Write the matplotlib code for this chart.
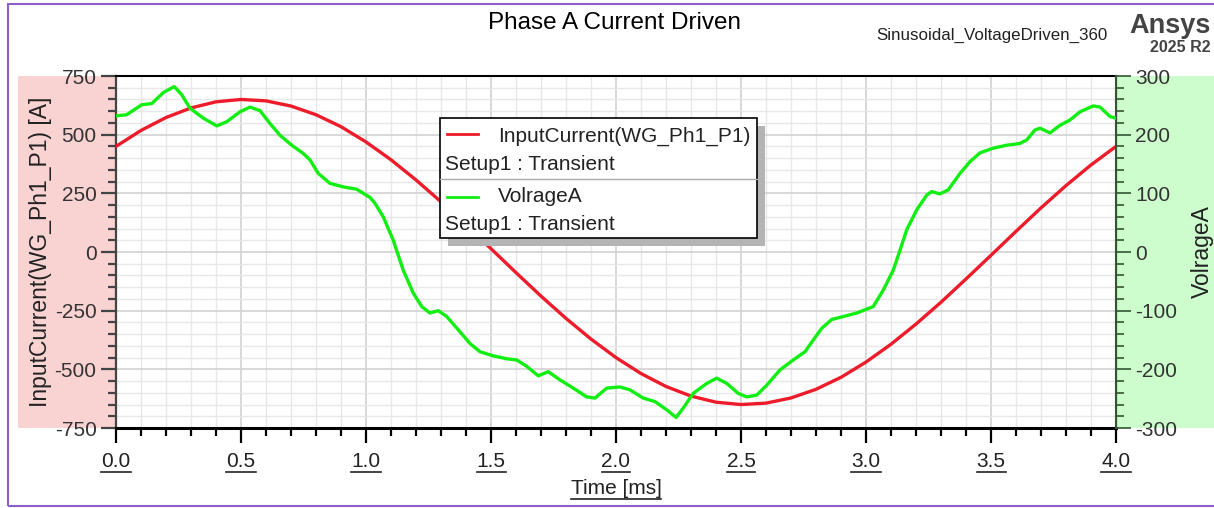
import numpy as np
import matplotlib
matplotlib.use("Agg")
import matplotlib.pyplot as plt
from matplotlib.patches import Rectangle
from matplotlib.lines import Line2D
from matplotlib.ticker import MultipleLocator

plt.rcParams['font.family'] = ['Liberation Sans', 'DejaVu Sans']
plt.rcParams['axes.unicode_minus'] = False

# -----------------------------
# data
# -----------------------------
t_current = [0.0, 0.1, 0.2, 0.3, 0.4, 0.5, 0.6, 0.7, 0.8, 0.9,
             1.0, 1.1, 1.2, 1.3, 1.4, 1.5, 1.6, 1.7, 1.8, 1.9,
             2.0, 2.1, 2.2, 2.3, 2.4, 2.5, 2.6, 2.7, 2.8, 2.9,
             3.0, 3.1, 3.2, 3.3, 3.4, 3.5, 3.6, 3.7, 3.8, 3.9, 4.0]
current = [450, 518, 573, 614, 640, 650, 644, 622, 585, 534,
           469, 393, 307, 214, 115, 14, -88, -188, -283, -371,
           -450, -518, -573, -614, -640, -650, -644, -622, -585, -534,
           -469, -393, -307, -214, -115, -14, 88, 188, 283, 371, 450]

t_voltage = [0.0, 0.043, 0.103, 0.143, 0.19, 0.233, 0.263, 0.296, 0.35, 0.403,
             0.443, 0.496, 0.536, 0.576, 0.616, 0.656, 0.703, 0.749, 0.776, 0.809,
             0.856, 0.909, 0.963, 1.016, 1.036, 1.069, 1.109, 1.149, 1.189, 1.223,
             1.256, 1.289, 1.323, 1.376, 1.416, 1.456, 1.509, 1.563, 1.603, 1.643,
             1.689, 1.729, 1.776, 1.829, 1.883, 1.916, 1.963, 2.016, 2.056, 2.109,
             2.156, 2.203, 2.24, 2.269, 2.309, 2.363, 2.403, 2.443, 2.489, 2.523,
             2.563, 2.603, 2.656, 2.709, 2.756, 2.789, 2.823, 2.863, 2.909, 2.963,
             3.029, 3.069, 3.109, 3.136, 3.163, 3.203, 3.243, 3.263, 3.296, 3.329,
             3.376, 3.416, 3.456, 3.509, 3.563, 3.616, 3.643, 3.676, 3.696, 3.736,
             3.776, 3.816, 3.856, 3.909, 3.936, 3.976, 4.0]
voltage = [232, 234, 251, 253, 272, 282, 268, 245, 228, 215,
           222, 239, 247, 241, 219, 199, 182, 168, 157, 134,
           117, 111, 107, 93, 83, 60, 20, -31, -70, -93,
           -104, -100, -110, -136, -156, -170, -177, -182, -184, -195,
           -211, -204, -218, -232, -247, -249, -232, -230, -235, -249,
           -255, -269, -282, -266, -241, -224, -215, -224, -241, -247,
           -244, -227, -201, -184, -170, -150, -130, -115, -110, -104,
           -93, -65, -31, 3, 38, 72, 97, 103, 99, 106,
           134, 154, 169, 177, 182, 185, 191, 208, 211, 203,
           216, 225, 239, 249, 247, 231, 228]

x_ticks = [0.0, 0.5, 1.0, 1.5, 2.0, 2.5, 3.0, 3.5, 4.0]

W, H = 1214, 508
FS = 15


def fx(px):
    return px / W


def fy(py):
    return 1 - py / H


fig = plt.figure(figsize=(W / 100, H / 100), dpi=100)

# side bands and frame
fig.add_artist(Rectangle((fx(18), fy(428)), fx(98), 352 / H, transform=fig.transFigure,
                         facecolor='#f9d2d2', edgecolor='none', zorder=-1))
fig.add_artist(Rectangle((fx(1116), fy(428)), fx(98), 352 / H, transform=fig.transFigure,
                         facecolor='#cdfccd', edgecolor='none', zorder=-1))
fig.add_artist(Rectangle((fx(8), fy(506)), fx(1220), 502 / H, transform=fig.transFigure,
                         facecolor='none', edgecolor='#8c5fc9', linewidth=1.5, zorder=-1))

ax = fig.add_axes([fx(116), fy(428), fx(1000), 352 / H])
ax2 = ax.twinx()

# -----------------------------
# curves
# -----------------------------
ax.plot(t_current, current, color='#ee1c2a', linewidth=2.4, zorder=3)
ax2.plot(t_voltage, voltage, color='#11ee11', linewidth=2.4, zorder=3)

ax.set_xlim(0, 4)
ax.set_ylim(-750, 750)
ax2.set_ylim(-300, 300)

ax.xaxis.set_major_locator(MultipleLocator(0.5))
ax.xaxis.set_minor_locator(MultipleLocator(0.1))
ax.yaxis.set_major_locator(MultipleLocator(250))
ax.yaxis.set_minor_locator(MultipleLocator(50))
ax2.yaxis.set_major_locator(MultipleLocator(100))
ax2.yaxis.set_minor_locator(MultipleLocator(20))

ax.grid(which='major', color='#d2d2d2', linewidth=1.2)
ax.grid(which='minor', color='#e8e8e8', linewidth=1.0)
ax.set_axisbelow(True)

ax.set_xticks(x_ticks)
ax.set_xticklabels(['%.1f' % v for v in x_ticks])

ax.tick_params(which='major', direction='out', length=11, width=1.6, labelsize=FS, colors='black')
ax.tick_params(which='minor', direction='out', length=6, width=1.6)
ax.tick_params(axis='y', which='both', color='#444444', labelcolor='#333333', pad=3)
ax.tick_params(axis='x', pad=6, labelcolor='#222222')
ax2.tick_params(which='major', direction='out', length=11, width=1.2, labelsize=FS,
                color='#335533', labelcolor='#333333', pad=3)
ax2.tick_params(which='minor', direction='out', length=6, width=1.2, color='#335533')

for side in ['top', 'bottom']:
    ax2.spines[side].set_visible(False)
ax.spines['bottom'].set_linewidth(2.2)
ax.spines['top'].set_linewidth(1.5)
ax.spines['left'].set_color('#444444')
ax.spines['left'].set_linewidth(1.6)
ax2.spines['left'].set_visible(False)
ax2.spines['right'].set_color('#335533')
ax2.spines['right'].set_linewidth(1.5)

ax.set_xlabel('Time [ms]', fontsize=FS, labelpad=6, color='#222222')
ax.set_ylabel('InputCurrent(WG_Ph1_P1) [A]', fontsize=16.5, color='#222222', labelpad=2)
ax2.set_ylabel('VolrageA', fontsize=16.5, color='#222222', rotation=90, labelpad=10)

# -----------------------------
# titles
# -----------------------------
fig.text(fx(614), fy(23), 'Phase A Current Driven', fontsize=17.5, ha='center', va='center')
fig.text(fx(1108), fy(35), 'Sinusoidal_VoltageDriven_360', fontsize=12.2, ha='right', va='center',
         color='#222222')
fig.text(fx(1211), fy(26), 'Ansys', fontsize=19.5, fontweight='bold', ha='right', va='center',
         color='#444444')
fig.text(fx(1211), fy(47), '2025 R2', fontsize=11.5, fontweight='bold', ha='right', va='center',
         color='#444444')

# -----------------------------
# legend box
# -----------------------------
lx0, ly0, lx1, ly1 = 440, 118, 757, 238
fig.add_artist(Rectangle((fx(lx0 + 8), fy(ly1 + 8)), fx(lx1 - lx0), (ly1 - ly0) / H,
                         transform=fig.transFigure, facecolor='#b4b4b4', edgecolor='none', zorder=8))
fig.add_artist(Rectangle((fx(lx0), fy(ly1)), fx(lx1 - lx0), (ly1 - ly0) / H,
                         transform=fig.transFigure, facecolor='white', edgecolor='black',
                         linewidth=1.2, zorder=9))
fig.add_artist(Line2D([fx(lx0), fx(lx1)], [fy(179), fy(179)], transform=fig.transFigure,
                      color='#aaaaaa', linewidth=1, zorder=10))
fig.add_artist(Line2D([fx(447), fx(478)], [fy(134), fy(134)], transform=fig.transFigure,
                      color='#ee1c2a', linewidth=2, zorder=10))
fig.add_artist(Line2D([fx(447), fx(478)], [fy(197), fy(197)], transform=fig.transFigure,
                      color='#11ee11', linewidth=2, zorder=10))
legend_texts = [(498, 136, 'InputCurrent(WG_Ph1_P1)'), (445, 164, 'Setup1 : Transient'),
                (498, 196, 'VolrageA'), (445, 224, 'Setup1 : Transient')]
for px, py, s in legend_texts:
    fig.text(fx(px), fy(py), s, fontsize=FS, ha='left', va='center', color='#222222', zorder=11)

# -----------------------------
# underline x tick labels and x label
# -----------------------------
fig.canvas.draw()
renderer = fig.canvas.get_renderer()
for lab in list(ax.get_xticklabels()) + [ax.xaxis.label]:
    if not lab.get_text():
        continue
    bb = lab.get_window_extent(renderer)
    yline = bb.y0 - 1
    fig.add_artist(Line2D([bb.x0 / W, bb.x1 / W], [yline / H, yline / H],
                          transform=fig.transFigure, color='#222222', linewidth=1.2))

fig.savefig('out.png', dpi=100)
